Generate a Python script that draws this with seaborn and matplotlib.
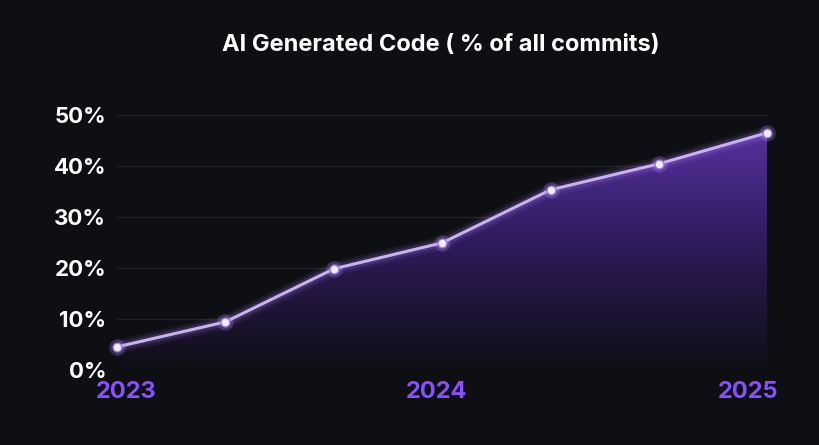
import matplotlib
matplotlib.use("Agg")
import matplotlib.pyplot as plt
import seaborn as sns
import numpy as np
import pandas as pd
from matplotlib.colors import LinearSegmentedColormap

x_vals = [0, 1, 2, 3, 4, 5, 6]
pct = [4.5, 9.4, 19.8, 24.9, 35.3, 40.4, 46.5]
year_ticks = [0.08, 2.95, 5.82]
year_labels = ["2023", "2024", "2025"]
y_ticks = [0, 10, 20, 30, 40, 50]
y_labels = ["0%", "10%", "20%", "30%", "40%", "50%"]
title = "AI Generated Code ( % of all commits)"

bg = "#0e0f13"
sns.set_theme(style="dark")
plt.rcParams["font.family"] = ["Inter", "DejaVu Sans"]
fig = plt.figure(figsize=(8.19, 4.45), dpi=100, facecolor=bg)
ax = fig.add_axes([0.143, 0.169, 0.794, 0.573], facecolor=bg)
df = pd.DataFrame({"x": x_vals, "y": pct})

ax.set_xlim(0, 6)
ax.set_ylim(0, 50)
for t in y_ticks[1:]:
    ax.axhline(t, color="#22232a", lw=1, zorder=0)

cmap = LinearSegmentedColormap.from_list("g", ["#0e0f13", "#301a5c", "#5a35a8"])
grad = np.linspace(0, 1, 256).reshape(-1, 1)
im = ax.imshow(grad, extent=[0, 6, 0, 50], origin="lower", aspect="auto", cmap=cmap, zorder=1)
poly = ax.fill_between(x_vals, pct, 0, color="none")
im.set_clip_path(poly.get_paths()[0], transform=ax.transData)

for lw, a in [(10, 0.08), (6, 0.15)]:
    ax.plot(x_vals, pct, color="#b48cff", lw=lw, alpha=a, zorder=2, solid_capstyle="round")
sns.lineplot(data=df, x="x", y="y", ax=ax, color="#c9b2f0", lw=2.2, zorder=3)
ax.scatter(x_vals, pct, s=140, color="#b48cff", alpha=0.25, zorder=4, clip_on=False, lw=0)
ax.scatter(x_vals, pct, s=40, color="#f0eaff", zorder=5, clip_on=False, edgecolor="#9c7ae0", lw=1)

ax.set_xticks(year_ticks)
ax.set_xticklabels(year_labels, color="#8a4fff", fontsize=17, fontweight="bold")
ax.set_yticks(y_ticks)
ax.set_yticklabels(y_labels, color="white", fontsize=16, fontweight="bold")
ax.tick_params(length=0, pad=8)
ax.set_xlabel(""); ax.set_ylabel("")
for s in ax.spines.values():
    s.set_visible(False)
ax.grid(False)
fig.text(0.538, 0.9, title, color="white", fontsize=17, fontweight="bold", ha="center", va="center")
fig.savefig("out.png", facecolor=bg)
